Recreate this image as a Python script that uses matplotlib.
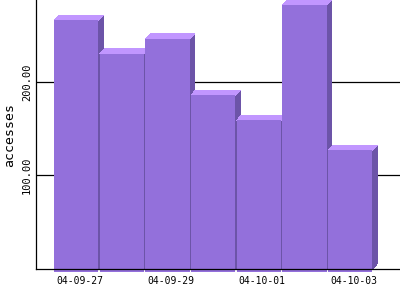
import matplotlib
matplotlib.use("Agg")
import matplotlib.pyplot as plt
from matplotlib.patches import Polygon

days = ["04-09-27", "04-09-28", "04-09-29", "04-09-30",
        "04-10-01", "04-10-02", "04-10-03"]
accesses = [266, 230, 246, 186, 159, 282, 127]
ytick_vals = [100, 200]
ytick_text = ["100.00", "200.00"]

front_col = "#9370DB"
top_col = "#C196FF"
side_col = "#6C54A8"

fig = plt.figure(figsize=(4, 3), dpi=100)
ax = fig.add_axes([36 / 400, 31 / 300, 364 / 400, 269 / 300])

width = 0.972
dx = 0.103
dy = 5.4
base = -3.5

for i, v in enumerate(accesses):
    xl, xr = i, i + width
    # side face
    ax.add_patch(Polygon([(xr, 0), (xr + dx, dy), (xr + dx, v + dy), (xr, v)],
                         closed=True, facecolor=side_col, edgecolor="none",
                         clip_on=False, antialiased=False))
    # top face
    ax.add_patch(Polygon([(xl, v), (xr, v), (xr + dx, v + dy), (xl + dx, v + dy)],
                         closed=True, facecolor=top_col, edgecolor="none",
                         clip_on=False, antialiased=False))
    # front face
    ax.add_patch(Polygon([(xl, base), (xr, base), (xr, v), (xl, v)],
                         closed=True, facecolor=front_col, edgecolor="none",
                         clip_on=False, antialiased=False))

ax.set_xlim(-0.394, 7.576)
ax.set_ylim(0, 287.7)

ax.set_xticks([i + 0.556 for i in range(0, len(days), 2)],
              days[::2], family="DejaVu Sans Mono", fontsize=7)
ax.set_yticks(ytick_vals, ytick_text, rotation=90, va="center",
              family="DejaVu Sans Mono", fontsize=7.5)
ax.tick_params(axis="x", length=0, pad=5)
ax.tick_params(axis="y", length=0, pad=3)

ax.set_axisbelow(True)
ax.yaxis.grid(True, color="black", linewidth=0.9)

for s in ["top", "right"]:
    ax.spines[s].set_visible(False)
for s in ["left", "bottom"]:
    ax.spines[s].set_linewidth(0.9)

fig.text(10 / 400, 1 - 135 / 300, "accesses", rotation=90,
         ha="center", va="center", family="DejaVu Sans Mono", fontsize=9.5)

fig.savefig("out.png", dpi=100)
